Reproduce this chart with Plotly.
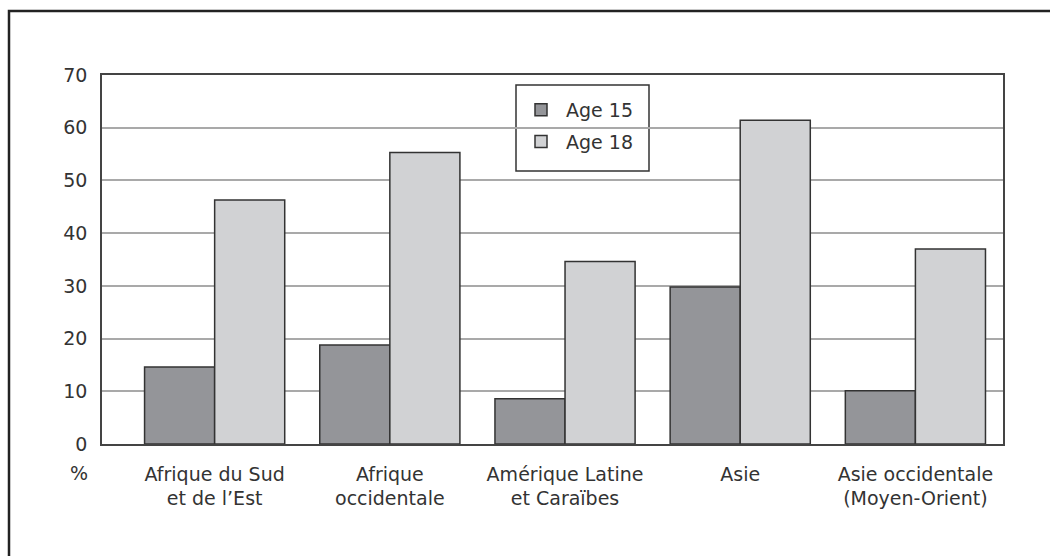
import plotly.graph_objects as go

categories = [
    "Afrique du Sud<br>et de l’Est",
    "Afrique<br>occidentale",
    "Amérique Latine<br>et Caraïbes",
    "Asie",
    "Asie occidentale<br>(Moyen-Orient)",
]
age15 = [14.6, 18.8, 8.6, 29.8, 10.1]
age18 = [46.3, 55.3, 34.6, 61.4, 37.0]
series_names = ["Age 15", "Age 18"]
y_ticks = [0, 10, 20, 30, 40, 50, 60, 70]

FONT = "DejaVu Sans"
TXT = "#333333"
FS = 19

fig = go.Figure()
fig.add_trace(go.Bar(
    x=categories, y=age15, name=series_names[0], legendgroup="a",
    marker=dict(color="#949599", line=dict(color="#333333", width=1.5)),
))
fig.add_trace(go.Bar(
    x=categories, y=age18, name=series_names[1], legendgroup="b",
    marker=dict(color="#d1d2d4", line=dict(color="#333333", width=1.5)),
))

L, R, T, B = 102, 47, 75, 112
W, H = 1050, 556
pw = W - L - R
ph = H - T - B

def px2paper_x(px):
    return (px - L) / pw

def px2paper_y(py):
    return (H - B - py) / ph

fig.update_layout(
    width=W, height=H,
    margin=dict(l=L, r=R, t=T, b=B, pad=0),
    paper_bgcolor="white", plot_bgcolor="white",
    barmode="group", bargap=0.2, bargroupgap=0,
    font=dict(family=FONT, size=FS, color=TXT),
    legend=dict(
        x=px2paper_x(516), y=px2paper_y(91), xanchor="left", yanchor="top",
        bgcolor="rgba(0,0,0,0)", borderwidth=0,
        font=dict(family=FONT, size=FS, color=TXT),
        tracegroupgap=4, traceorder="grouped", itemwidth=40,
    ),
    xaxis=dict(
        type="category", range=[-0.643, 4.5],
        showline=True, mirror=True, linecolor="#444444", linewidth=1.5,
        showgrid=False, ticks="", tickfont=dict(family=FONT, size=FS, color=TXT),
        ticklabelstandoff=12, fixedrange=True,
    ),
    yaxis=dict(
        range=[0, 70], tickvals=y_ticks, ticktext=[str(v) for v in y_ticks],
        showline=True, mirror=True, linecolor="#444444", linewidth=1.5,
        showgrid=True, gridcolor="#a9a9a9", gridwidth=1.5,
        zeroline=False, ticks="", ticklabelstandoff=9,
        tickfont=dict(family=FONT, size=FS, color=TXT), fixedrange=True,
    ),
    annotations=[dict(
        text="%", xref="paper", yref="paper",
        x=px2paper_x(79), y=px2paper_y(473), xanchor="center", yanchor="middle",
        showarrow=False, font=dict(family=FONT, size=FS, color=TXT),
    )],
    shapes=[
        dict(
            type="rect", xref="paper", yref="paper",
            x0=px2paper_x(9), x1=px2paper_x(1100),
            y0=px2paper_y(11), y1=px2paper_y(620),
            line=dict(color="#222222", width=2.5), fillcolor="rgba(0,0,0,0)",
            layer="above",
        ),
        dict(
            type="rect", xref="paper", yref="paper",
            x0=px2paper_x(516), x1=px2paper_x(649),
            y0=px2paper_y(85), y1=px2paper_y(171),
            line=dict(color="#333333", width=1.5), fillcolor="white",
            layer="between",
        ),
    ],
)

fig.write_html("out.html", config={"displayModeBar": False},
               post_script="document.body.style.margin='0';")
